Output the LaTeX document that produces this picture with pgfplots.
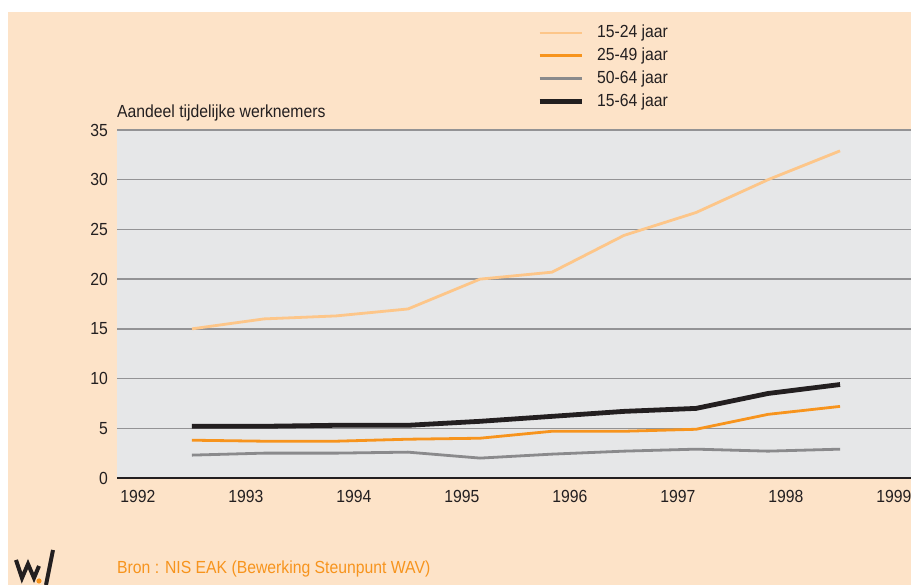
\documentclass[border=0pt]{standalone}
\usepackage{pgfplots}
\pgfplotsset{compat=1.18}
\usepackage{fontspec}
\setmainfont{Liberation Sans}[FakeStretch=0.9]
\definecolor{peach}{HTML}{FDE3C8}
\definecolor{plotbg}{HTML}{E6E7E8}
\definecolor{lightor}{HTML}{FDC689}
\definecolor{orng}{HTML}{F7941D}
\definecolor{grayl}{HTML}{8A8A8C}
\definecolor{blk}{HTML}{231F20}
\definecolor{gridc}{HTML}{939395}
\newcommand\ff{\fontsize{17.5bp}{20bp}\selectfont}
\begin{document}
\begin{tikzpicture}[x=1bp,y=1bp]
\useasboundingbox (0,0) rectangle (911,585);
\fill[white] (0,0) rectangle (911,585);
\fill[peach] (8,0) rectangle (911,573);
\begin{axis}[at={(117bp,107bp)}, anchor=south west, scale only axis,
  width=794bp, height=348bp,
  xmin=1991.806, xmax=1999.157, ymin=0, ymax=35,
  axis background/.style={fill=plotbg},
  axis x line=bottom, axis y line=left,
  x axis line style={blk, line width=1.4bp, -},
  y axis line style={draw=none},
  major tick length=0pt,
  xtick={1992,...,1999}, ytick={0,5,...,35},
  ymajorgrids, grid style={gridc, line width=1.4bp},
  /pgf/number format/assume math mode=true,
  /pgf/number format/set thousands separator={},
  tick label style={font=\ff, text=blk},
  yticklabel style={anchor=east, inner sep=0pt, xshift=-9bp},
  xticklabel style={anchor=north, inner sep=0pt, yshift=-12bp},
  clip=false,
  legend style={at={(rel axis cs:0.529,1.303)}, anchor=north west,
    draw=none, fill=none, inner sep=0pt, font=\ff, text=blk,
    nodes={inner sep=0pt, text height=13bp, text depth=3.5bp},
    row sep=6.4bp, cells={anchor=west},
    /tikz/every odd column/.append style={column sep=13bp}},
  legend image code/.code={\draw[#1] (0bp,0bp) -- (42bp,0bp);},
]
\addplot[lightor, line width=2.8bp, line join=round] coordinates {
(1992.5,15.0) (1993.167,16.0) (1993.833,16.3) (1994.5,17.0) (1995.167,20.0)
(1995.833,20.7) (1996.5,24.4) (1997.167,26.7) (1997.833,30.0) (1998.5,32.9)};
\addlegendentry{15-24 jaar}
\addplot[orng, line width=2.8bp, line join=round] coordinates {
(1992.5,3.8) (1993.167,3.7) (1993.833,3.7) (1994.5,3.9) (1995.167,4.0)
(1995.833,4.7) (1996.5,4.7) (1997.167,4.9) (1997.833,6.4) (1998.5,7.2)};
\addlegendentry{25-49 jaar}
\addplot[grayl, line width=2.8bp, line join=round] coordinates {
(1992.5,2.3) (1993.167,2.5) (1993.833,2.5) (1994.5,2.6) (1995.167,2.0)
(1995.833,2.4) (1996.5,2.7) (1997.167,2.9) (1997.833,2.7) (1998.5,2.9)};
\addlegendentry{50-64 jaar}
\addplot[blk, line width=4.8bp, line join=round] coordinates {
(1992.5,5.2) (1993.167,5.2) (1993.833,5.3) (1994.5,5.3) (1995.167,5.7)
(1995.833,6.2) (1996.5,6.7) (1997.167,7.0) (1997.833,8.5) (1998.5,9.4)};
\addlegendentry{15-64 jaar}
\end{axis}
\node[anchor=base west, inner sep=0pt, font=\ff, text=blk] at (117,467) {Aandeel tijdelijke werknemers};
\node[anchor=base west, inner sep=0pt, font=\ff, text=orng] at (117,11) {Bron : NIS EAK (Bewerking Steunpunt WAV)};
\draw[blk, line width=4bp, line join=miter, line cap=butt] (16,25) -- (22,7) -- (28,21) -- (34,7) -- (39,19);
\draw[blk, line width=4bp, line cap=butt] (53,35) -- (46,0);
\fill[orng] (39,4) circle (2.6bp);
\end{tikzpicture}
\end{document}
